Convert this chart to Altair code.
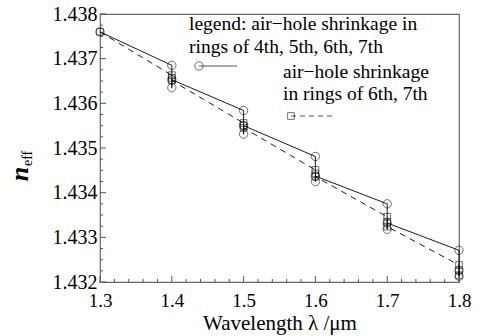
import altair as alt
import pandas as pd

# ---- data ----
wavelength = [1.3, 1.4, 1.5, 1.6, 1.7, 1.8]
# series 1: air-hole shrinkage in rings of 4th,5th,6th,7th (circles, solid)
s1_top = [1.43760, 1.43685, 1.43584, 1.43481, 1.43375, 1.43271]
s1_bottom = [1.43760, 1.43635, 1.43531, 1.43425, 1.43318, 1.43213]
s1_mid = [1.43760, 1.43653, 1.43550, 1.43437, 1.43332, 1.43226]
# series 2: air-hole shrinkage in rings of 6th,7th (squares, dashed)
s2_top = [1.43760, 1.43663, 1.43556, 1.43451, 1.43346, 1.43238]
s2_mid = [1.43760, 1.43657, 1.43550, 1.43443, 1.43335, 1.43226]
s2_bottom = [1.43760, 1.43651, 1.43545, 1.43436, 1.43324, 1.43215]

x_major = [1.3, 1.4, 1.5, 1.6, 1.7, 1.8]
x_minor = [1.32, 1.34, 1.36, 1.38, 1.42, 1.44, 1.46, 1.48, 1.52, 1.54, 1.56, 1.58,
           1.62, 1.64, 1.66, 1.68, 1.72, 1.74, 1.76, 1.78]
y_major = [1.432, 1.433, 1.434, 1.435, 1.436, 1.437, 1.438]
y_minor = [1.43225, 1.4325, 1.43275, 1.43325, 1.4335, 1.43375, 1.43425, 1.4345, 1.43475,
           1.43525, 1.4355, 1.43575, 1.43625, 1.4365, 1.43675, 1.43725, 1.4375, 1.43775]

legend1 = ["legend: air\u2212hole shrinkage in", "rings of 4th, 5th, 6th, 7th"]
legend2 = ["air\u2212hole shrinkage", "in rings of 6th, 7th"]

FONT = "Liberation Serif"
W, H = 359, 268

rows1, rows2 = [], []
k = 0
for i, x in enumerate(wavelength):
    for v in ([s1_top[i]] if i == 0 else [s1_top[i], s1_bottom[i], s1_mid[i]]):
        rows1.append({"x": x, "y": v, "o": k}); k += 1
k = 0
for i, x in enumerate(wavelength):
    for v in ([s2_top[i]] if i == 0 else [s2_top[i], s2_mid[i], s2_bottom[i]]):
        rows2.append({"x": x, "y": v, "o": k}); k += 1
d1 = pd.DataFrame(rows1)
d2 = pd.DataFrame(rows2)

xs = alt.Scale(domain=[1.3, 1.8], nice=False, zero=False, padding=0)
ys = alt.Scale(domain=[1.432, 1.438], nice=False, zero=False, padding=0)

xaxis = alt.Axis(values=x_major, format=".1f", ticks=False, domain=False, grid=False,
                 labelFlush=False, labelOverlap=False,
                 labelFont=FONT, labelFontSize=19, labelColor="black", labelPadding=9,
                 title="Wavelength \u03bb /\u03bcm", titleFont=FONT, titleFontSize=21,
                 titleFontWeight="normal", titleColor="black", titlePadding=2)
yaxis = alt.Axis(values=y_major, format=".3f", ticks=False, domain=False, grid=False,
                 labelFlush=False, labelOverlap=False,
                 labelFont=FONT, labelFontSize=20, labelColor="black", labelPadding=3,
                 title=None)

line1 = alt.Chart(d1).mark_line(color="black", strokeWidth=0.9).encode(
    x=alt.X("x:Q", scale=xs, axis=xaxis),
    y=alt.Y("y:Q", scale=ys, axis=yaxis),
    order="o:Q")
pts1 = alt.Chart(d1).mark_point(shape="circle", filled=False, color="black",
                                 size=70, strokeWidth=0.8).encode(
    x=alt.X("x:Q", scale=xs), y=alt.Y("y:Q", scale=ys))
line2 = alt.Chart(d2).mark_line(color="black", strokeWidth=0.9, strokeDash=[6, 5]).encode(
    x=alt.X("x:Q", scale=xs), y=alt.Y("y:Q", scale=ys), order="o:Q")
pts2 = alt.Chart(d2).mark_point(shape="square", filled=False, color="black",
                                 size=45, strokeWidth=0.8).encode(
    x=alt.X("x:Q", scale=xs), y=alt.Y("y:Q", scale=ys))

# inward ticks
xmaj = alt.Chart(pd.DataFrame({"v": x_major})).mark_rule(color="#555").encode(
    x=alt.X("v:Q", scale=xs), y=alt.value(H), y2=alt.value(H - 6))
xmin = alt.Chart(pd.DataFrame({"v": x_minor})).mark_rule(color="#555").encode(
    x=alt.X("v:Q", scale=xs), y=alt.value(H), y2=alt.value(H - 3))
ymaj = alt.Chart(pd.DataFrame({"v": y_major})).mark_rule(color="#555").encode(
    y=alt.Y("v:Q", scale=ys), x=alt.value(0), x2=alt.value(6))
ymin = alt.Chart(pd.DataFrame({"v": y_minor})).mark_rule(color="#555").encode(
    y=alt.Y("v:Q", scale=ys), x=alt.value(0), x2=alt.value(3))

# legend (drawn in-plot as in the reference)
def txt(s, x, y):
    return alt.Chart().mark_text(font=FONT, fontSize=19.5, align="left", baseline="middle").encode(
        x=alt.value(x), y=alt.value(y), text=alt.value(s))

lt1a = txt(legend1[0], 89, 10)
lt1b = txt(legend1[1], 89, 33)
lt2a = txt(legend2[0], 183, 58)
lt2b = txt(legend2[1], 183, 80)
lg1line = alt.Chart().mark_rule(color="#444", strokeWidth=0.9).encode(
    x=alt.value(99), x2=alt.value(137), y=alt.value(52))
lg1pt = alt.Chart().mark_point(shape="circle", filled=False, color="black", size=70,
                                strokeWidth=0.8).encode(x=alt.value(99), y=alt.value(52))
lg2line = alt.Chart().mark_rule(color="#444", strokeWidth=0.9, strokeDash=[5, 4]).encode(
    x=alt.value(191), x2=alt.value(232), y=alt.value(102))
lg2pt = alt.Chart().mark_point(shape="square", filled=False, color="black", size=45,
                                strokeWidth=0.8).encode(x=alt.value(191), y=alt.value(102))

# y-axis title n_eff
yt_n = alt.Chart().mark_text(font=FONT, fontSize=26, fontStyle="italic", fontWeight="bold",
                             angle=270, align="center", baseline="alphabetic").encode(
    x=alt.value(-72), y=alt.value(160), text=alt.value("n"))
yt_sub = alt.Chart().mark_text(font=FONT, fontSize=14, angle=270, align="left",
                               baseline="alphabetic").encode(
    x=alt.value(-68), y=alt.value(152), text=alt.value("eff"))

chart = alt.layer(line1, line2, pts1, pts2, xmaj, xmin, ymaj, ymin,
                  lt1a, lt1b, lt2a, lt2b, lg1line, lg1pt, lg2line, lg2pt, yt_n, yt_sub).properties(
    width=W, height=H,
    autosize=alt.AutoSizeParams(type="none"),
    padding={"left": 100, "top": 14, "right": 30, "bottom": 54},
    background="white",
).configure_view(stroke="#666", strokeWidth=1.2)

chart.save("out.html", embed_options={"renderer": "svg", "actions": False})
